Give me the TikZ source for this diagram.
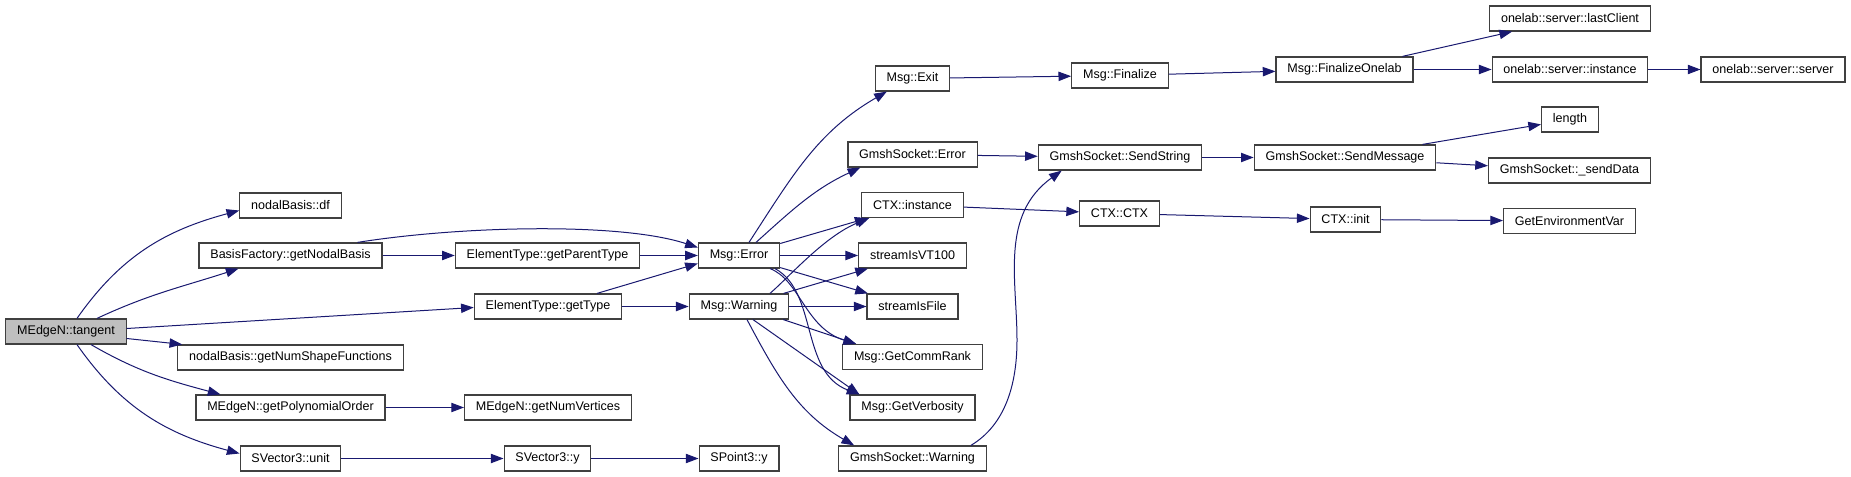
\documentclass[tikz,border=0pt]{standalone}
\usepackage{fontspec}
\setmainfont{Liberation Sans}
\usetikzlibrary{calc,arrows.meta}
\definecolor{edgeblue}{HTML}{191970}
\definecolor{boxgrey}{HTML}{404040}
\definecolor{rootgrey}{HTML}{BFBFBF}
\tikzset{
  fn/.style={rectangle,draw=boxgrey,line width=0.9pt,fill=white,minimum height=18.75pt,
             inner xsep=8.5pt,inner ysep=0pt,font=\fontsize{9.4}{11}\selectfont},
  root/.style={fn,fill=rootgrey},
  call/.style={edgeblue,line width=0.75pt,-{Triangle[length=9.5pt,width=7pt]}},
}
\begin{document}
\begin{tikzpicture}[x=0.75pt,y=-0.75pt]
  \useasboundingbox (0,0) rectangle (1851,477);
  % caller and its direct callees
  \node[root] (tangent) at (66,331.5) {MEdgeN::tangent};
  \node[fn] (nbdf) at (290.5,205.5) {nodalBasis::df};
  \node[fn] (getnodal) at (290.5,255.5) {BasisFactory::getNodalBasis};
  \node[fn] (nshape) at (290.5,357.5) {nodalBasis::getNumShapeFunctions};
  \node[fn] (polyorder) at (290.5,407.5) {MEdgeN::getPolynomialOrder};
  \node[fn] (sunit) at (290.5,458.5) {SVector3::unit};
  % second column
  \node[fn] (parenttype) at (547.5,255.5) {ElementType::getParentType};
  \node[fn] (gettype) at (548,306.5) {ElementType::getType};
  \node[fn] (numvert) at (548,407.5) {MEdgeN::getNumVertices};
  \node[fn] (svecy) at (547.5,458.5) {SVector3::y};
  \node[fn] (msgerror) at (739,255.5) {Msg::Error};
  \node[fn] (msgwarn) at (739,306.5) {Msg::Warning};
  \node[fn] (spointy) at (739,458.5) {SPoint3::y};
  % what the messages call
  \node[fn] (msgexit) at (912.5,78.5) {Msg::Exit};
  \node[fn] (gserror) at (912.5,154.5) {GmshSocket::Error};
  \node[fn] (ctxinst) at (912.5,205) {CTX::instance};
  \node[fn] (vt100) at (912.5,255.5) {streamIsVT100};
  \node[fn] (isfile) at (912.5,306.5) {streamIsFile};
  \node[fn] (commrank) at (912.5,357) {Msg::GetCommRank};
  \node[fn] (verbosity) at (912.5,407.5) {Msg::GetVerbosity};
  \node[fn] (gswarn) at (912.5,458.5) {GmshSocket::Warning};
  \node[fn] (finalize) at (1120,75.5) {Msg::Finalize};
  \node[fn] (sendstring) at (1120,157.5) {GmshSocket::SendString};
  \node[fn] (ctxctx) at (1119.5,213.5) {CTX::CTX};
  \node[fn] (finonelab) at (1344.5,69.5) {Msg::FinalizeOnelab};
  \node[fn] (sendmsg) at (1345,157.5) {GmshSocket::SendMessage};
  \node[fn] (ctxinit) at (1345.5,219.5) {CTX::init};
  \node[fn] (lastclient) at (1570,18.5) {onelab::server::lastClient};
  \node[fn] (srvinst) at (1570,69.5) {onelab::server::instance};
  \node[fn] (srvsrv) at (1773,69.5) {onelab::server::server};
  \node[fn] (lenfn) at (1570,119.5) {length};
  \node[fn] (senddata) at (1569.5,170.5) {GmshSocket::\_sendData};
  \node[fn] (getenv) at (1569.5,221) {GetEnvironmentVar};

  % edges out of the caller
  \draw[call] ($(tangent.north)+(11,0)$) to[out=55,in=195] ($(nbdf.west)+(0,5)$);
  \draw[call] ($(tangent.north)+(31,0)$) to[out=25,in=198] ($(getnodal.south)+(-52,0)$);
  \draw[call] ($(tangent.east)+(0,-3)$) -- ($(gettype.west)+(0,1)$);
  \draw[call] ($(tangent.east)+(0,7)$) -- ($(nshape.north west)+(5,0)$);
  \draw[call] ($(tangent.south)+(25,0)$) to[out=-30,in=165] ($(polyorder.north)+(-70,0)$);
  \draw[call] ($(tangent.south)+(11,0)$) to[out=-55,in=165] ($(sunit.west)+(0,-5)$);

  \draw[call] (getnodal) -- (parenttype);
  \draw[call] ($(getnodal.north)+(67,0)$) .. controls (460,226) and (620,222) .. ($(msgerror.west)+(0,-8)$);
  \draw[call] (parenttype) -- (msgerror);
  \draw[call] ($(gettype.north)+(49,0)$) -- ($(msgerror.west)+(0,8)$);
  \draw[call] (gettype) -- (msgwarn);
  \draw[call] (polyorder) -- (numvert);
  \draw[call] (sunit) -- (svecy);
  \draw[call] (svecy) -- (spointy);

  % Msg::Error
  \draw[call] ($(msgerror.north)+(10,0)$) to[out=57,in=210] ($(msgexit.south west)+(12,0)$);
  \draw[call] ($(msgerror.north)+(17,0)$) to[out=42,in=205] ($(gserror.south west)+(13,0)$);
  \draw[call] (msgerror) -- (ctxinst);
  \draw[call] (msgerror) -- (vt100);
  \draw[call] (msgerror) -- (isfile);
  \draw[call] ($(msgerror.south)+(31,0)$) .. controls (800,280) and (805,328) .. ($(commrank.north west)+(14,0)$);
  \draw[call] ($(msgerror.south)+(36,0)$) .. controls (818,292) and (800,372) .. ($(verbosity.north west)+(10,0)$);

  % Msg::Warning
  \draw[call] ($(msgwarn.north)+(31,0)$) .. controls (790,276) and (825,236) .. ($(ctxinst.south west)+(8,0)$);
  \draw[call] (msgwarn) -- (vt100);
  \draw[call] (msgwarn) -- (isfile);
  \draw[call] ($(msgwarn.south east)+(-6,0)$) -- ($(commrank.north west)+(14,0)$);
  \draw[call] ($(msgwarn.south)+(14,0)$) -- ($(verbosity.north west)+(10,0)$);
  \draw[call] ($(msgwarn.south)+(8,0)$) to[out=-62,in=150] ($(gswarn.north west)+(16,0)$);

  % further down the chain
  \draw[call] (msgexit) -- (finalize);
  \draw[call] (finalize) -- (finonelab);
  \draw[call] (finonelab) -- (lastclient);
  \draw[call] (finonelab) -- (srvinst);
  \draw[call] (srvinst) -- (srvsrv);
  \draw[call] (gserror) -- (sendstring);
  \draw[call] ($(gswarn.north east)+(-16,0)$) .. controls (1005,425) and (1017,385) .. (1017,340)
    .. controls (1017,280) and (1000,215) .. ($(sendstring.south west)+(24,0)$);
  \draw[call] (sendstring) -- (sendmsg);
  \draw[call] (sendmsg) -- (lenfn);
  \draw[call] (sendmsg) -- (senddata);
  \draw[call] (ctxinst) -- (ctxctx);
  \draw[call] (ctxctx) -- (ctxinit);
  \draw[call] (ctxinit) -- (getenv);
\end{tikzpicture}
\end{document}
